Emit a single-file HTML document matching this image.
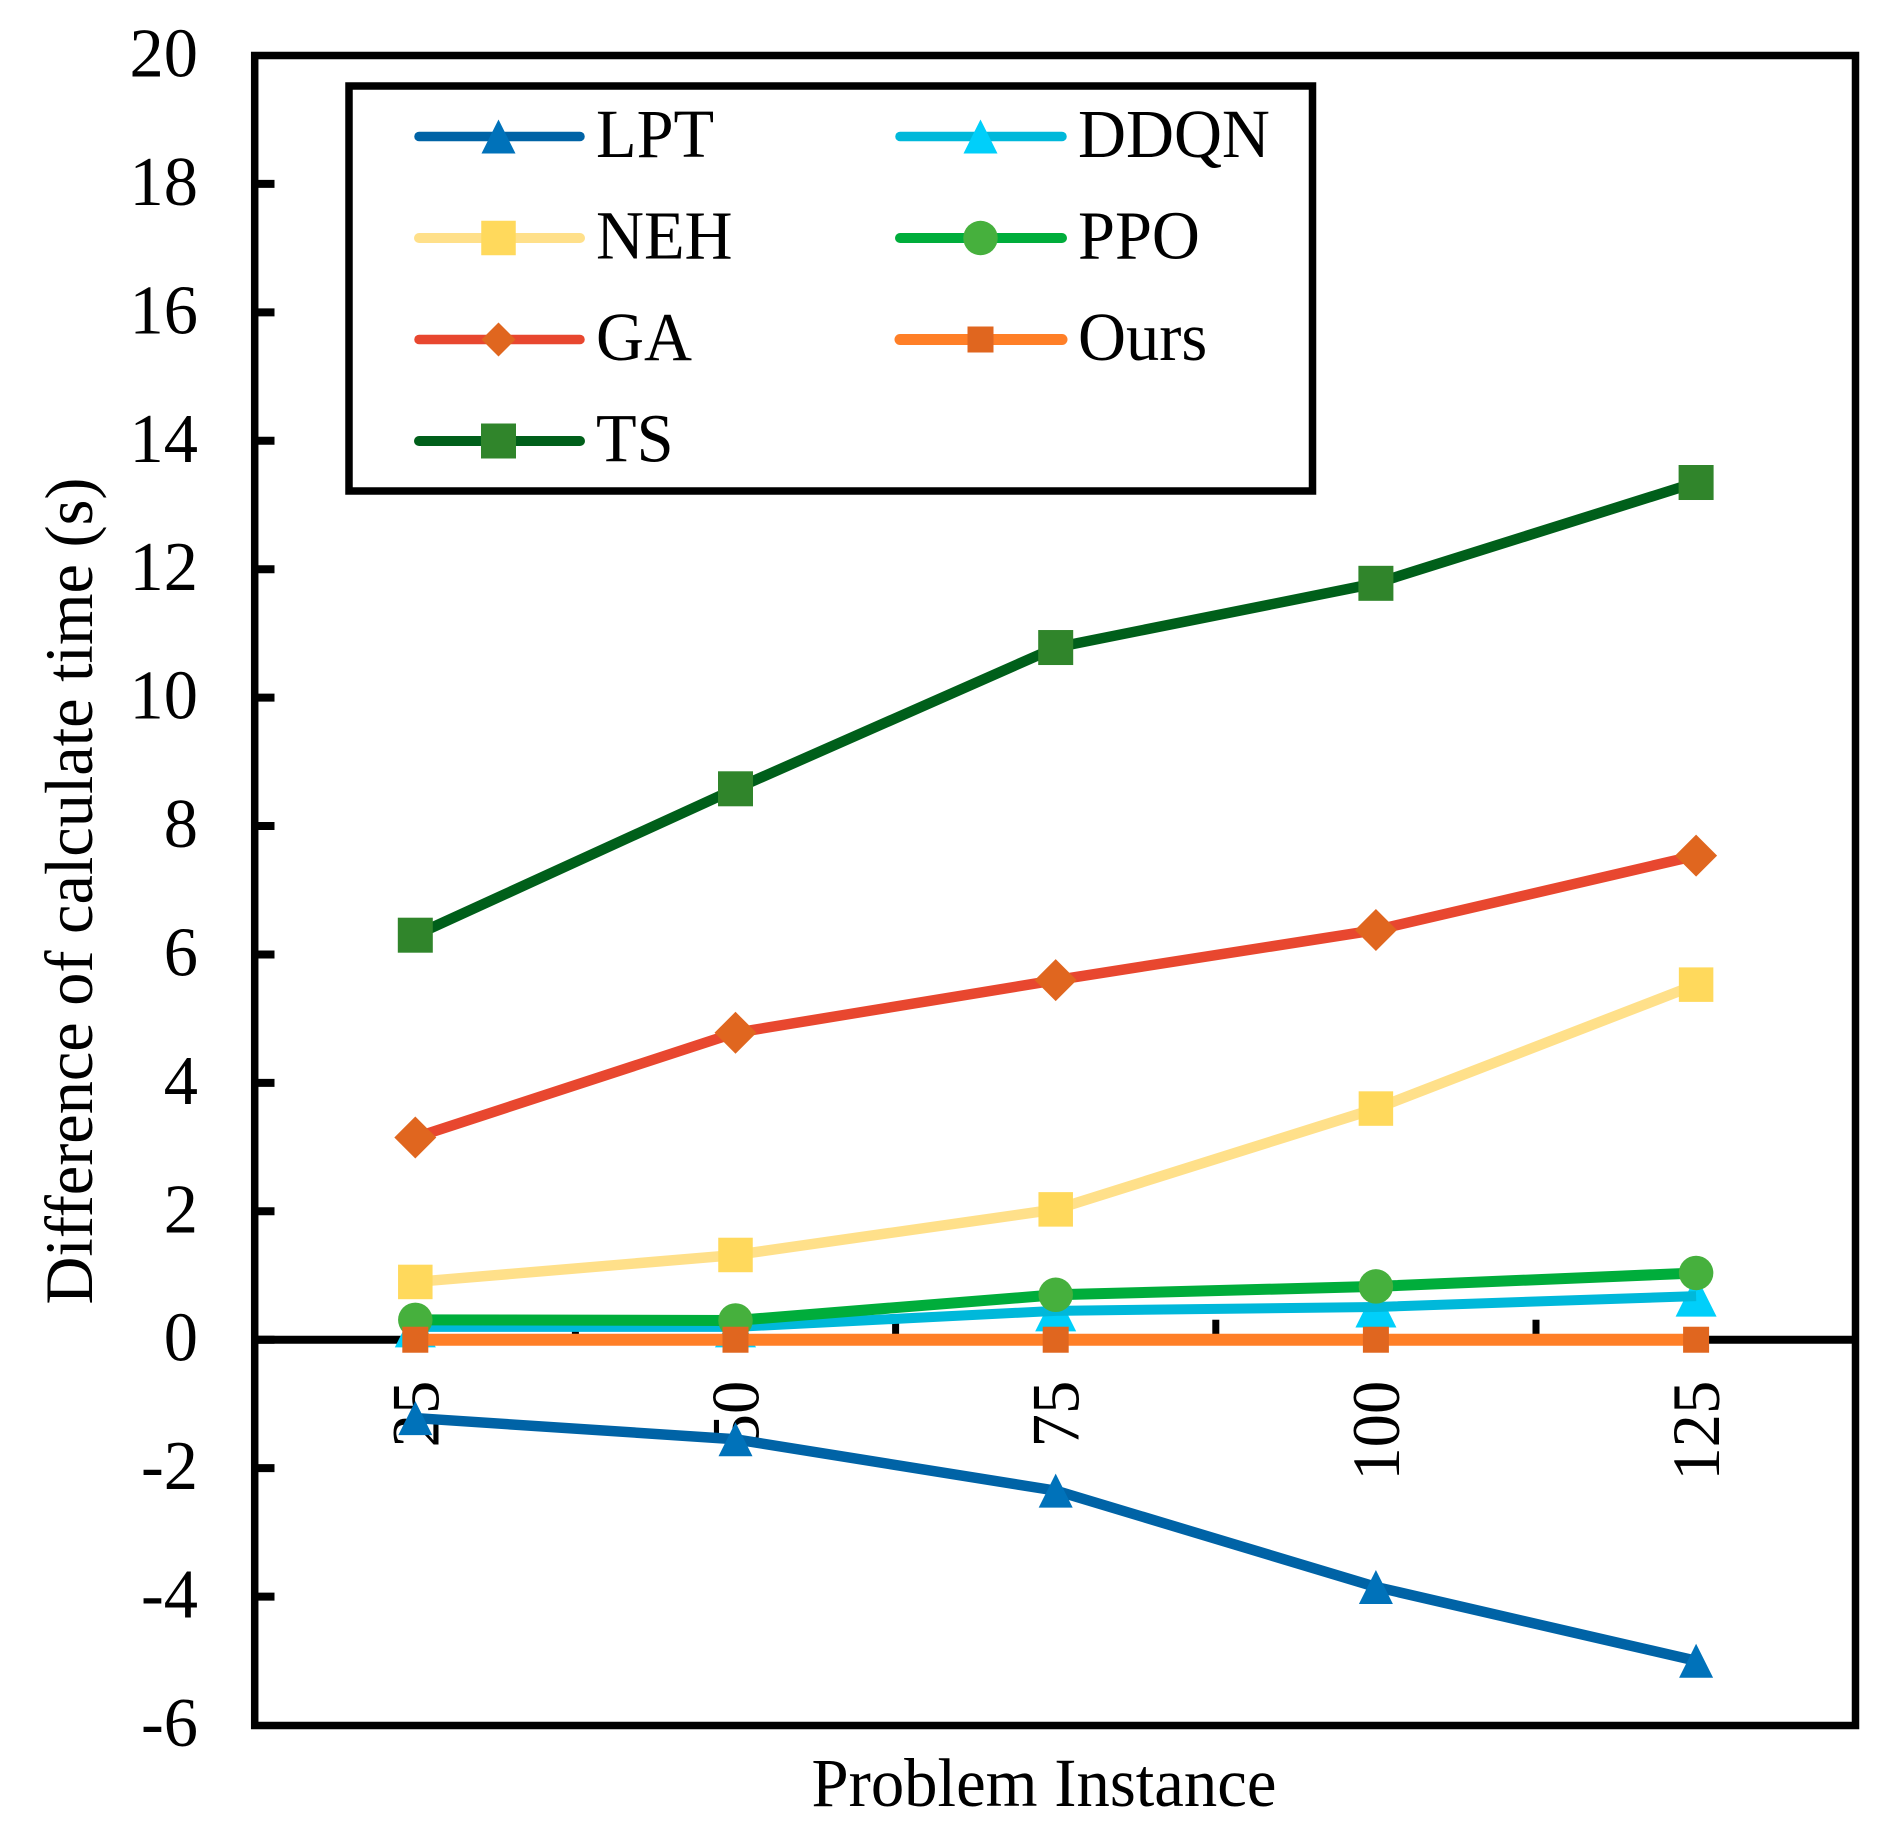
<!DOCTYPE html>
<html lang="en">
<head>
<meta charset="utf-8">
<title>Difference of calculate time</title>
<style>
html,body{margin:0;padding:0;background:#fff;}
svg{display:block;}
text{font-family:"Liberation Serif","Times New Roman",serif;fill:#000;}
</style>
</head>
<body>
<svg id="chart" xmlns="http://www.w3.org/2000/svg" width="1901" height="1844" viewBox="0 0 1901 1844">
  <rect x="0" y="0" width="1901" height="1844" fill="#ffffff"/>
  <g id="x-tick-layer"></g>
  <g id="x-label-layer"></g>
  <g id="y-tick-layer"></g>
  <g id="y-label-layer"></g>
  <line id="zero-line" stroke="#000" stroke-width="8"/>
  <g id="series-layer"></g>
  <rect x="254.7" y="55.5" width="1600.8" height="1670" fill="none" stroke="#000" stroke-width="7.5"/>
  <g>
    <rect x="349" y="86" width="963.5" height="405" fill="#fff" stroke="#000" stroke-width="7.5"/>
    <g id="legend-layer"></g>
  </g>
  <text transform="translate(1044,1806) scale(0.967,1)" font-size="69" text-anchor="middle">Problem Instance</text>
  <text transform="translate(92,891) rotate(-90) scale(0.975,1)" font-size="68" text-anchor="middle">Difference of calculate time (s)</text>
</svg>
<script>
const categories = ["25", "50", "75", "100", "125"];
const yTickValues = [20, 18, 16, 14, 12, 10, 8, 6, 4, 2, 0, -2, -4, -6];
const lptValues = [-1.22, -1.55, -2.35, -3.85, -5.0];
const ddqnValues = [0.2, 0.2, 0.45, 0.51, 0.68];
const nehValues = [0.9, 1.32, 2.03, 3.6, 5.53];
const ppoValues = [0.31, 0.3, 0.7, 0.83, 1.04];
const gaValues = [3.15, 4.78, 5.6, 6.38, 7.54];
const oursValues = [0, 0, 0, 0, 0];
const tsValues = [6.3, 8.58, 10.78, 11.78, 13.35];

const NS = "http://www.w3.org/2000/svg";
const plotLeft = 255.2, plotRight = 1856.2, plotTop = 55.5, plotBottom = 1725;
const yMax = 20, yMin = -6;

function xScale(i) {
  const band = (plotRight - plotLeft) / categories.length;
  return plotLeft + band * (i + 0.5);
}
function yScale(v) {
  return plotTop + (yMax - v) / (yMax - yMin) * (plotBottom - plotTop);
}
function make(tag, attrs, parent) {
  const node = document.createElementNS(NS, tag);
  for (const k in attrs) node.setAttribute(k, attrs[k]);
  parent.appendChild(node);
  return node;
}
function drawMarker(shape, cx, cy, size, fill, parent) {
  const h = size / 2;
  if (shape === "triangle") {
    return make("polygon", {points: (cx) + "," + (cy - h) + " " + (cx - h) + "," + (cy + h) + " " + (cx + h) + "," + (cy + h), fill: fill}, parent);
  }
  if (shape === "diamond") {
    return make("polygon", {points: cx + "," + (cy - h) + " " + (cx + h) + "," + cy + " " + cx + "," + (cy + h) + " " + (cx - h) + "," + cy, fill: fill}, parent);
  }
  if (shape === "circle") {
    return make("circle", {cx: cx, cy: cy, r: h, fill: fill}, parent);
  }
  return make("rect", {x: cx - h, y: cy - h, width: size, height: size, fill: fill}, parent);
}

const seriesList = [
  {key: "lpt", label: "LPT", values: lptValues, line: "#0063a6", marker: "#0072ba", shape: "triangle", size: 34, legendSize: 34, width: 10.5, legendWidth: 9.5, lx: 0, ly: 0},
  {key: "ddqn", label: "DDQN", values: ddqnValues, line: "#00b8da", marker: "#00cffa", shape: "triangle", size: 41, legendSize: 34, width: 10, legendWidth: 9.5, lx: 1, ly: 0},
  {key: "neh", label: "NEH", values: nehValues, line: "#ffe08a", marker: "#ffd95c", shape: "square", size: 34.5, legendSize: 34.5, width: 10.5, legendWidth: 10, lx: 0, ly: 1},
  {key: "ppo", label: "PPO", values: ppoValues, line: "#00ad3b", marker: "#46b03d", shape: "circle", size: 34.5, legendSize: 34.5, width: 11, legendWidth: 10, lx: 1, ly: 1},
  {key: "ga", label: "GA", values: gaValues, line: "#e8472f", marker: "#e0661f", shape: "diamond", size: 42, legendSize: 34, width: 10.5, legendWidth: 9.5, lx: 0, ly: 2},
  {key: "ours", label: "Ours", values: oursValues, line: "#ff7f27", marker: "#e0661f", shape: "square", size: 26, legendSize: 26, width: 12, legendWidth: 11, lx: 1, ly: 2},
  {key: "ts", label: "TS", values: tsValues, line: "#005f1a", marker: "#30852b", shape: "square", size: 35, legendSize: 35, width: 10.5, legendWidth: 10, lx: 0, ly: 3}
];

const zero = document.getElementById("zero-line");
zero.setAttribute("x1", plotLeft);
zero.setAttribute("x2", plotRight - 1);
zero.setAttribute("y1", yScale(0));
zero.setAttribute("y2", yScale(0));

const xTickLayer = document.getElementById("x-tick-layer");
for (let i = 0; i < categories.length - 1; i++) {
  const tx = (xScale(i) + xScale(i + 1)) / 2;
  const tick = make("line", {x1: tx, x2: tx, y1: yScale(0), y2: yScale(0) - 20, stroke: "#000", "stroke-width": 7}, xTickLayer);
  
  
}
const xLabelLayer = document.getElementById("x-label-layer");
categories.forEach(function (c, i) {
  const bx = xScale(i) + 23;
  const by = yScale(0) + 41;
  const t = make("text", {transform: "translate(" + bx + "," + by + ") rotate(-90) scale(0.98,1)", "font-size": 68, "text-anchor": "end"}, xLabelLayer);
  t.textContent = c;
  
  
});

const yTickLayer = document.getElementById("y-tick-layer");
const yLabelLayer = document.getElementById("y-label-layer");
yTickValues.forEach(function (v) {
  const ty = yScale(v);
  if (v !== yMax && v !== yMin) {
    const tick = make("line", {x1: plotLeft, x2: 274.5, y1: ty, y2: ty, stroke: "#000", "stroke-width": 8}, yTickLayer);
    
    
  }
  const t = make("text", {transform: "translate(198," + (ty + 21) + ") scale(0.985,1)", "font-size": 69.5, "text-anchor": "end"}, yLabelLayer);
  t.textContent = String(v);
  
  
});

const seriesLayer = document.getElementById("series-layer");
seriesList.forEach(function (s) {
  const g = make("g", {}, seriesLayer);
  
  
  const pts = s.values.map(function (v, i) { return xScale(i) + "," + yScale(v); }).join(" ");
  const lineOnTop = s.key === "ddqn";
  if (!lineOnTop) {
    const poly = make("polyline", {points: pts, fill: "none", stroke: s.line, "stroke-width": s.width, "stroke-linejoin": "round"}, g);
    
    
  }
  s.values.forEach(function (v, i) {
    const m = drawMarker(s.shape, xScale(i), yScale(v), s.size, s.marker, g);
    
    
  });
  if (lineOnTop) {
    const polyTop = make("polyline", {points: pts, fill: "none", stroke: s.line, "stroke-width": s.width, "stroke-linejoin": "round"}, g);
    
    
  }
});

const legendLayer = document.getElementById("legend-layer");
seriesList.forEach(function (s) {
  const x0 = s.lx === 0 ? 415 : 896;
  const x1 = s.lx === 0 ? 584 : 1066;
  const cx = (x0 + x1) / 2 + (s.lx === 0 ? -1 : -0.5);
  const ly = 136.5 + s.ly * 101.5;
  const g = make("g", {}, legendLayer);
  
  
  const ln = make("line", {x1: x0 + 4, x2: x1 - 4, y1: ly, y2: ly, stroke: s.line, "stroke-width": s.legendWidth, "stroke-linecap": "round"}, g);
  
  
  const m = drawMarker(s.shape, cx, ly, s.legendSize, s.marker, g);
  
  
  const tx = s.lx === 0 ? 596 : 1078;
  const t = make("text", {transform: "translate(" + tx + "," + (ly + 20.5) + ") scale(0.97,1)", "font-size": 68.5}, g);
  t.textContent = s.label;
  
  
});
</script>
</body>
</html>
